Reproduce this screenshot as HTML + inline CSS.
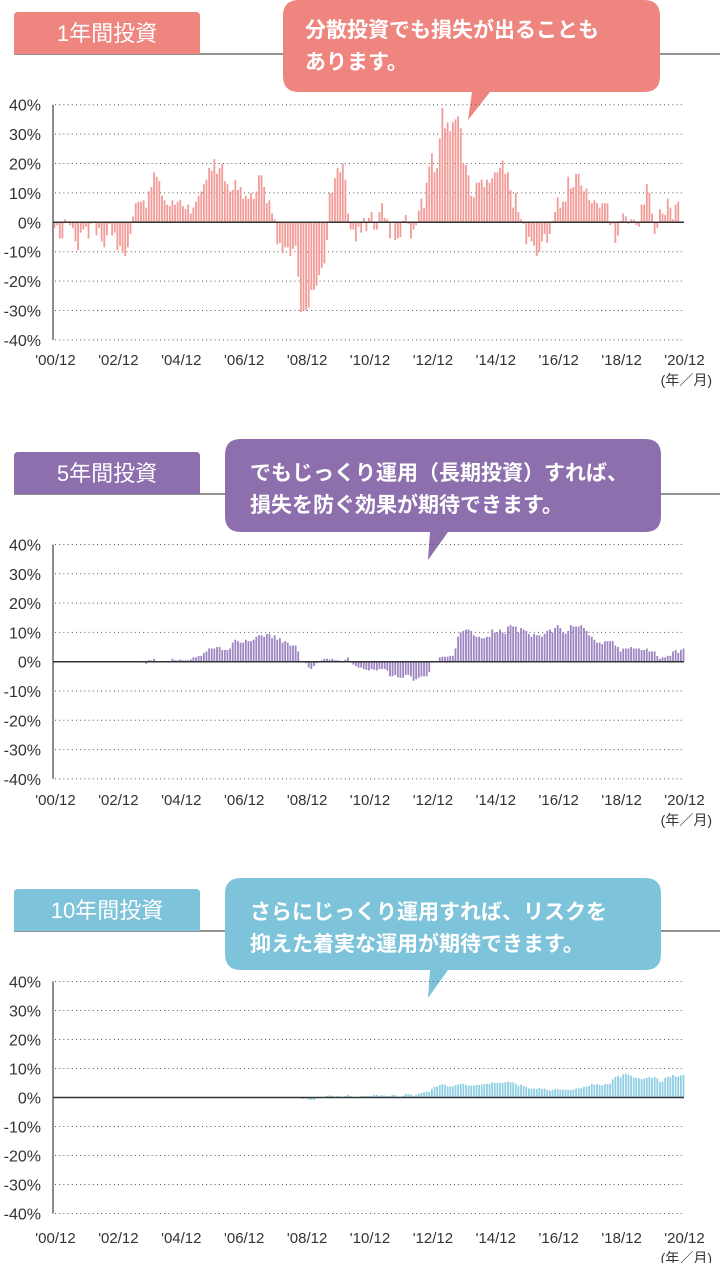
<!DOCTYPE html>
<html><head><meta charset="utf-8">
<style>
html,body{margin:0;padding:0;background:#fff;}
body{width:720px;height:1263px;overflow:hidden;position:relative;font-family:"Liberation Sans","Noto Sans CJK JP",sans-serif;}
svg{position:absolute;left:0;top:0;}
</style></head>
<body>
<svg id="chart" width="720" height="1263" viewBox="0 0 720 1263" xmlns="http://www.w3.org/2000/svg"></svg>
<script>
const xLabels = ["'00/12","'02/12","'04/12","'06/12","'08/12","'10/12","'12/12","'14/12","'16/12","'18/12","'20/12"];
const yTicks = [40,30,20,10,0,-10,-20,-30,-40];
const returns1y = [-2,-1,-5.5,-5.5,1,0,-1,-2,-6.5,-9.5,-3.5,-2.5,-1.5,-5.5,-0.5,0,-4.5,-2,-6.5,-8.5,-4.5,-0.5,-4.5,-3.5,-9.5,-8,-10.5,-11.5,-8.5,-4,
2,6.5,7,7,7.5,5,10.5,12,17,15.5,14,9,7.5,6,5.5,7.5,6,7,7.5,5.5,4.5,6,3,5,7,9,10.5,13,14.5,18.5,17.5,21.5,16.5,18.5,20,14,13,10.5,11,14.5,11,12,8,9,8,10,8,10.5,16,16,12,6.5,7.5,3,1,
-7.5,-7,-10.5,-8.5,-8.5,-11.5,-9,-8,-18.5,-30.5,-30,-30,-29,-23,-23,-21.5,-18,-15.5,-14,-6,10,10,15,18.5,17,20,14.5,3,-2.5,-2.5,-6.5,-1.5,-3.5,1.5,-3,
1.5,3.5,-2.5,-2.5,3.5,6.5,1.5,1,-5.5,0,-6,-5.5,-5,0.5,2.5,-0.5,-5.5,-2.5,-1,4,8,5,13.5,19,23.5,17,18.5,28.5,39,32,34,31,34,35,36,32,20,19.5,16,9,8.5,13.5,13.5,14.5,12,14.5,13.5,15,17,17,18.5,21,16.5,17,11,5,10,3.5,1,-0.5,
-7.5,-5,-6.5,-8,-11.5,-10,-6.5,-4,-7,-4,0.5,3.5,8.5,5,7,7,15.5,11.5,12,16.5,16.5,12.5,10.5,11.5,7.5,6.5,7.5,6.5,5,6.5,6.5,6.5,-1,-0.5,-7,-4.5,0.5,3,2,-0.5,1,1,-1,-1.5,6,6,13,10,3,-4,-2,4.5,3,2.5,8,5,1,6,7];
const returns5y = [0,0,0,0,0,0,0,0,0,0,0,0,0,0,0,0,0,0,0,0,0,0,0,0,0,0,0,0,0,0,0,0,0,0,
0.3,-0.7,0.5,0.5,1,0,0,0,0,0,0.3,1,0.5,0.5,0.8,0.5,0.5,0.5,0.8,1.5,1.5,2,2,3,3.5,4.5,4.5,4.5,5,5,4,4,4,4.5,6.5,7.5,7,6.5,6.5,7.5,7,7,7.5,8.5,9,9,8.5,9.5,9.5,8,9,7.5,8,6.5,7,6.5,5.5,5.5,5.5,3.5,0.3,0,-0.5,-2,-2.5,-1.5,-0.5,0,0.5,1,1,0.7,1,0.5,0.5,0.3,0,0.7,1.5,0,-1,-1.5,-2,-2,-2.5,-2.8,-3,-2.5,-2.8,-3,-2.5,-2.5,-2.5,-3,-5,-5,-4.5,-5.3,-5.5,-5.5,-4.5,-4.5,-5,-6.5,-6,-5.5,-5,-5,-5,-3.5,
0,0,0,1.5,1.7,1.7,1.7,2,2,4.5,8.5,10,10.5,11,11,10.5,9,8.5,8.5,8,8,8.5,8.5,11,10,10,11,10,9.5,12,12.5,12,12,10,11.5,11,10.5,9.5,8.5,9.5,9,9,8.5,9.5,10.5,11,10,11.5,12.5,11.5,10,9.5,10.5,12.5,12,12,12,12.5,11.5,10.5,9,8.5,7.5,6.5,6.5,6,7,7,7,7,5.5,5,3.5,4.5,4.5,4.5,5,4.5,4.5,4.5,4,4,4.5,3.5,3.5,3.5,2,1,1.5,1.5,2,2,3.5,4,3,4,4.5];
const returns10y = [0,0,0,0,0,0,0,0,0,0,0,0,0,0,0,0,0,0,0,0,0,0,0,0,0,0,0,0,0,0,0,0,0,0,0,0,0,0,0,0,0,0,0,0,0,0,0,0,0,0,0,0,0,0,0,0,0,0,0,0,0,0,0,0,0,0,0,0,0,0,0,0,0,0,0,0,0,0,0,0,0,0,0,0,0,0,0,0,0,0,0,0,0,0,
-0.3,-0.5,-0.3,-0.8,-0.8,-0.8,-0.3,0,0,0.3,0.6,0.7,0.6,0.3,0.5,0.3,0.3,0.5,0.9,0.5,0,0.3,0,0.5,0.5,0.6,0.5,0.5,0.9,0.9,0.6,0.8,0.6,0.5,0.5,0.9,0.9,0.3,0.3,0.6,1.2,1.2,1.1,0.6,0.9,1.3,1.6,1.8,2,2,3,3.6,3.8,4.3,4.6,4.3,3.8,3.8,3.8,4.2,4.5,4.7,4.7,4.3,4.1,4.1,4.1,4.3,4.3,4.5,4.7,4.7,
4.7,5.2,5,5,5,5,5.3,5.5,5.2,5.2,4.7,4,4.4,4,3.6,3.1,3,3.1,3,3.3,2.9,3.1,2.6,2.4,2.5,2.9,2.9,2.7,2.7,2.7,2.6,2.6,2.7,3.1,3.2,3.2,3.6,3.8,4,4.7,4.4,4.6,4.4,4.1,4.6,4.6,4.8,6.2,7.1,7.5,7,8,8.2,7.8,7.5,6.8,6.8,6.6,6.3,6.5,6.8,7.1,6.7,7.1,6.6,5.4,5.4,6.8,7.2,7,7.8,7.2,7.2,7.6,7.8];

const NS='http://www.w3.org/2000/svg';
const svg=document.getElementById('chart');
function mk(tag,attrs,parent){const e=document.createElementNS(NS,tag);for(const k in attrs)e.setAttribute(k,attrs[k]);(parent||svg).appendChild(e);return e;}
const X0=54.5, X1=683.5, MONTHS=240;
function xScale(i){return X0+(X1-X0)*i/MONTHS;}

function panel(cfg){
  const g=mk('g',{});
  
  
  const yS=v=>cfg.zero-v*cfg.unit/10;
  // header line
  const hl=mk('line',{x1:14,x2:720,y1:cfg.lineY,y2:cfg.lineY,stroke:'#6f6f6f','stroke-width':1.6},g);
  
  
  // tab
  const tab=mk('path',{d:`M14 ${cfg.lineY} V${cfg.tabY+4} Q14 ${cfg.tabY} 18 ${cfg.tabY} H196 Q200 ${cfg.tabY} 200 ${cfg.tabY+4} V${cfg.lineY} Z`,fill:cfg.color},g);
  
  
  const tt=mk('text',{x:107,y:cfg.tabY+29,'text-anchor':'middle','font-size':22,fill:'#fff'},g);
  tt.textContent=cfg.title;
  
  
  // bubble
  const b=cfg.bubble;
  const bub=mk('path',{d:`M${b.x+16} ${b.y} H${b.x2-16} Q${b.x2} ${b.y} ${b.x2} ${b.y+16} V${b.y2-16} Q${b.x2} ${b.y2} ${b.x2-16} ${b.y2} H${b.t2} L${b.tx} ${b.ty} L${b.t1} ${b.y2} H${b.x+16} Q${b.x} ${b.y2} ${b.x} ${b.y2-16} V${b.y+16} Q${b.x} ${b.y} ${b.x+16} ${b.y} Z`,fill:cfg.color},g);
  
  
  b.lines.forEach((s,i)=>{
    const t=mk('text',{x:b.tx0,y:b.y+b.l0+i*32,'font-size':21,fill:'#fff','font-weight':'bold'},g);
    t.textContent=s;
    
    
  });
  // grid + y labels
  yTicks.forEach(v=>{
    const y=yS(v);
    if(v!==0){
      const gl=mk('line',{x1:55,x2:684,y1:y,y2:y,stroke:'#555','stroke-width':1,'stroke-dasharray':'1 3.2'},g);
      
      
    }
    const t=mk('text',{x:41,y:y+6,'text-anchor':'end','font-size':16,fill:'#333'},g);
    t.textContent=v+'%';
    
    
  });
  const ax=mk('line',{x1:53,x2:53,y1:yS(40),y2:yS(-40),stroke:'#666','stroke-width':1.5},g);
  
  
  // bars
  cfg.data.forEach((v,i)=>{
    if(v===0)return;
    const x=xScale(i), y=yS(v), y0=cfg.zero;
    const r=mk('rect',{x:x-0.9,y:Math.min(y,y0),width:1.8,height:Math.abs(y-y0),fill:cfg.bar},g);
    
    
  });
  const zl=mk('line',{x1:53,x2:684,y1:cfg.zero,y2:cfg.zero,stroke:'#333','stroke-width':1.5},g);
  
  
  // x labels
  xLabels.forEach((s,i)=>{
    const t=mk('text',{x:xScale(i*24)+1,y:cfg.xLabY,'text-anchor':'middle','font-size':15,fill:'#333'},g);
    t.textContent=s;
    
    
  });
  const u=mk('text',{x:712,y:cfg.xLabY+20,'text-anchor':'end','font-size':14,fill:'#333'},g);
  u.textContent='(年／月)';
  
  
}

panel({name:'one-year',title:'1年間投資',color:'#ee857f',bar:'#f29b97',data:returns1y,zero:222.3,unit:29.4,lineY:54,tabY:12,xLabY:365,
  bubble:{x:283,x2:660,y:0,y2:92,t1:472,t2:490,tx:468,ty:120,tx0:305,l0:37,lines:['分散投資でも損失が出ることも','あります。']}});
panel({name:'five-year',title:'5年間投資',color:'#8d6fad',bar:'#9d85c2',data:returns5y,zero:661.7,unit:29.3,lineY:494,tabY:452,xLabY:805,
  bubble:{x:225,x2:661,y:439,y2:532,t1:430,t2:448,tx:428,ty:560,tx0:250,l0:41,lines:['でもじっくり運用（長期投資）すれば、','損失を防ぐ効果が期待できます。']}});
panel({name:'ten-year',title:'10年間投資',color:'#7dc3da',bar:'#8fcfe3',data:returns10y,zero:1097.5,unit:29,lineY:931,tabY:889,xLabY:1243,
  bubble:{x:225,x2:661,y:878,y2:970,t1:430,t2:448,tx:428,ty:998,tx0:250,l0:41,lines:['さらにじっくり運用すれば、リスクを','抑えた着実な運用が期待できます。']}});
</script>
</body></html>
